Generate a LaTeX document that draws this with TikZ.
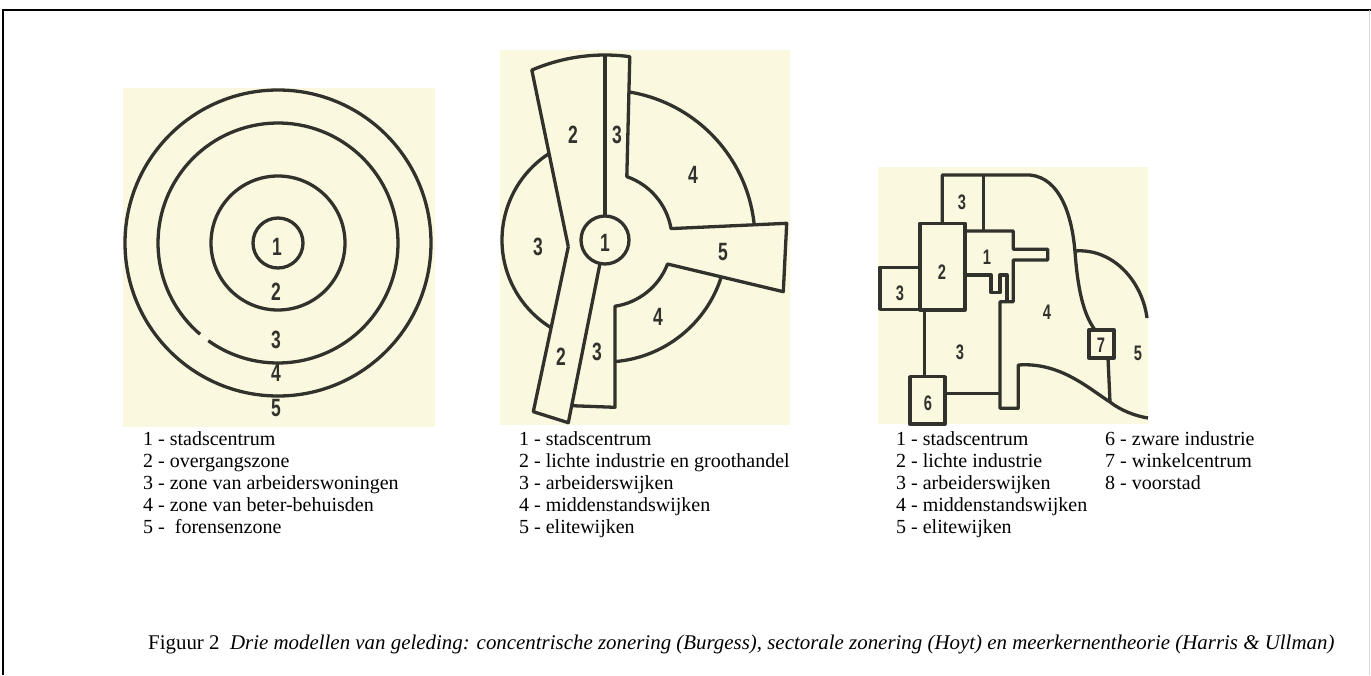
\documentclass[tikz,border=0pt]{standalone}
\usepackage{fontspec}
\setmainfont{Liberation Serif}
\newfontfamily\digfont{Liberation Sans}
\definecolor{cream}{RGB}{251,248,224}
\definecolor{ink}{RGB}{50,50,45}
\newcommand{\zd}[1]{\scalebox{0.7}[1]{#1}}
\begin{document}
\begin{tikzpicture}[x=1pt,y=-1pt,
  zone/.style={draw=ink, line width=3.3pt, line join=round},
  num/.style={font=\digfont\bfseries\fontsize{25}{25}\selectfont, text=ink, inner sep=0pt},
  snum/.style={font=\digfont\bfseries\fontsize{21}{21}\selectfont, text=ink, inner sep=0pt},
  leg/.style={anchor=base west, font=\fontsize{20}{20}\selectfont, inner sep=0pt}]
\useasboundingbox (0,0) rectangle (1371,675);
% frame
\draw[line width=2pt] (3,675) -- (3,10) -- (1371,10);
\draw[black!15, line width=1pt] (1369,10) -- (1369,675);

% ---------- left: Burgess ----------
\fill[cream] (123,88) rectangle (435,427);
\begin{scope}[shift={(278,243)}, y=1pt]
  \draw[zone] (0,0) circle[radius=25];
  \draw[zone] (0,0) circle[radius=67];
  \draw[zone] (234.5:120) arc[start angle=234.5, end angle=589.5, radius=120];
  \draw[zone] (0,0) circle[radius=153];
\end{scope}
\node[num] (b1) at (277,247) {\zd{1}};
\node[num] (b2) at (276,292) {\zd{2}};
\node[num] (b3) at (276,340) {\zd{3}};
\node[num] (b4) at (276,373) {\zd{4}};
\node[num] (b5) at (276,408) {\zd{5}};

% ---------- middle: Hoyt ----------
\fill[cream] (500,50) rectangle (790,425);
\begin{scope}[shift={(605,240)}, y=1pt]
  \draw[zone] (0,0) circle[radius=24];
  \draw[zone] (-36.7,-6.7) -- (113.3:185) arc[start angle=113.3, end angle=82.3, radius=185]
     -- (71:67) arc[start angle=71, end angle=9.8, radius=67]
     -- (181.7,16.7) -- (178.3,-51.7) -- (-21:67)
     arc[start angle=-21, end angle=-81.4, radius=67]
     -- (10,-167.3) -- (-33.2,-165.7);
  \draw[zone] (-5,-23.5) -- (-36.7,-182.7) -- (-71.7,-171.7) -- (-36.7,-6.7);
  \draw[zone] (0,185) -- (0,24);
  \draw[zone] (80.8:150) arc[start angle=80.8, end angle=5.85, radius=150];
  \draw[zone] (-17.7:122) arc[start angle=-17.7, end angle=-85.3, radius=122];
  \draw[zone] (123:103) arc[start angle=123, end angle=238.4, radius=103];
\end{scope}
\node[num] (h2a) at (573,135) {\zd{2}};
\node[num] (h3a) at (617,135) {\zd{3}};
\node[num] (h4a) at (693,175) {\zd{4}};
\node[num] (h3b) at (538,247) {\zd{3}};
\node[num] (h1)  at (605,243) {\zd{1}};
\node[num] (h5)  at (723,252) {\zd{5}};
\node[num] (h4b) at (658,317) {\zd{4}};
\node[num] (h2b) at (561,357) {\zd{2}};
\node[num] (h3c) at (597,352) {\zd{3}};

% ---------- right: Harris & Ullman ----------
\fill[cream] (878,167) rectangle (1148,424);
\draw[zone] (942.3,223.3) -- (942.3,175) -- (1030,175)
   .. controls (1060,178) and (1072,215) .. (1075,252)
   .. controls (1078,292) and (1084,315) .. (1095,330);
\draw[zone] (983.3,175) -- (983.3,231);
\draw[zone] (920,223.3) rectangle (965,310);
\draw[zone] (920,267.3) -- (880,267.3) -- (880,309.3) -- (920,309.3);
\draw[zone] (965,231) -- (1013.3,231) -- (1013.3,249.3) -- (1047.7,249.3) -- (1047.7,260)
   -- (1013.3,260) -- (1013.3,301.7) -- (1000,301.7) -- (1000,408.3) -- (1018.3,408.3) -- (1018.3,365)
   .. controls (1060,362) and (1088,388) .. (1110,402)
   .. controls (1120,410) and (1135,416) .. (1148,418);
\draw[zone] (965,275) -- (991,275) -- (991,292.7) -- (1000,292.7) -- (1000,275) -- (1007,275) -- (1007,301.7);
\draw[zone] (924.3,310) -- (924.3,376.7);
\draw[zone] (910,376.7) rectangle (945,424);
\draw[zone] (945,393.3) -- (1000,393.3);
\draw[zone] (1089,330) rectangle (1114,358);
\draw[zone] (1108,358) -- (1110,402);
\draw[zone] (1075,251) .. controls (1112,248) and (1142,280) .. (1147,318);
\node[snum] (m3a) at (962,202) {\zd{3}};
\node[snum] (m1)  at (987,257) {\zd{1}};
\node[snum] (m2)  at (942,272) {\zd{2}};
\node[snum] (m3b) at (900,293) {\zd{3}};
\node[snum] (m4)  at (1047,312) {\zd{4}};
\node[snum] (m3c) at (960,352) {\zd{3}};
\node[snum] (m7)  at (1101,345) {\zd{7}};
\node[snum] (m5)  at (1138,353) {\zd{5}};
\node[snum] (m6)  at (928,403) {\zd{6}};

% ---------- legends ----------
\node[leg] (l1) at (143,445) {1 - stadscentrum};
\node[leg] (l2) at (143,467) {2 - overgangszone};
\node[leg] (l3) at (143,489) {3 - zone van arbeiderswoningen};
\node[leg] (l4) at (143,511) {4 - zone van beter-behuisden};
\node[leg] (l5) at (143,533) {5 -\ \ forensenzone};

\node[leg] (c1) at (519,445) {1 - stadscentrum};
\node[leg] (c2) at (519,467) {2 - lichte industrie en groothandel};
\node[leg] (c3) at (519,489) {3 - arbeiderswijken};
\node[leg] (c4) at (519,511) {4 - middenstandswijken};
\node[leg] (c5) at (519,533) {5 - elitewijken};

\node[leg] (r1) at (896,445) {1 - stadscentrum};
\node[leg] (r2) at (896,467) {2 - lichte industrie};
\node[leg] (r3) at (896,489) {3 - arbeiderswijken};
\node[leg] (r4) at (896,511) {4 - middenstandswijken};
\node[leg] (r5) at (896,533) {5 - elitewijken};
\node[leg] (r6) at (1105,445) {6 - zware industrie};
\node[leg] (r7) at (1105,467) {7 - winkelcentrum};
\node[leg] (r8) at (1105,489) {8 - voorstad};

% ---------- caption ----------
\node[leg, font=\fontsize{20.9}{21}\selectfont] (cap) at (148,649) {Figuur 2\ \ \textit{Drie modellen van geleding: concentrische zonering (Burgess), sectorale zonering (Hoyt) en meerkernentheorie (Harris \& Ullman)}};
\end{tikzpicture}
\end{document}
